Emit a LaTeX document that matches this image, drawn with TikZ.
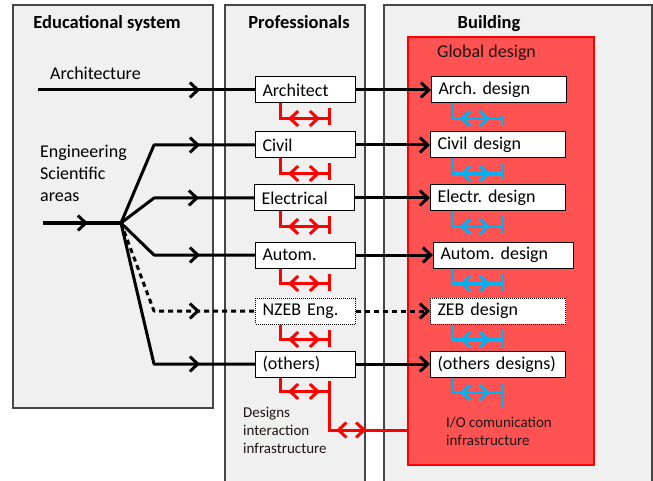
\documentclass[tikz,border=0pt]{standalone}
\usepackage{fontspec}
\setmainfont{Carlito}
\usetikzlibrary{arrows.meta,decorations.markings,calc}
\definecolor{panelgray}{RGB}{240,240,240}
\definecolor{panelline}{RGB}{70,70,70}
\definecolor{gdred}{RGB}{255,82,82}
\definecolor{lnred}{RGB}{255,0,0}
\definecolor{lnblue}{RGB}{0,176,240}
\definecolor{darktext}{RGB}{30,20,20}
\frenchspacing
\tikzset{
  x=1pt, y=-1pt,
  mainfont/.style={font=\fontsize{18}{22}\selectfont},
  smallfont/.style={font=\fontsize{15}{18}\selectfont},
  titlefont/.style={font=\bfseries\fontsize{18.5}{22}\selectfont},
  boxbase/.style={draw=black, line width=1pt, fill=white, minimum height=26pt,
    inner xsep=7pt, inner ysep=0pt, align=left, anchor=west, mainfont},
  pbox/.style={boxbase, text width=86pt},
  dbox/.style={boxbase, text width=#1},
  dbox/.default=121pt,
  dotbox/.style={dash pattern=on 1pt off 1pt},
  flow/.style={line width=3pt, black, line join=round},
  tipb/.tip={Straight Barb[length=8pt,width=15pt]},
  midtip/.style={postaction={solid, decorate, decoration={markings,
      mark=at position #1 with {\arrow{tipb}}}}},
  dbl/.style 2 args={postaction={solid, decorate, decoration={markings,
      mark=at position #1 with {\arrowreversed{tipb}},
      mark=at position #2 with {\arrow{tipb}}}}},
  rl/.style={line width=3pt, lnred},
  bl/.style={line width=3pt, lnblue},
}
\begin{document}
\begin{tikzpicture}
\useasboundingbox (0,0) rectangle (653,481);
\fill[white] (0,0) rectangle (653,481);
% panels
\fill[panelgray] (13,5) rectangle (213,408);
\draw[panelline, line width=1.2pt] (13,5) rectangle (213,408);
\fill[panelgray] (225,5) rectangle (365,481);
\draw[panelline, line width=1.2pt] (225,481) -- (225,5) -- (365,5) -- (365,481);
\fill[panelgray] (384,5) rectangle (652,481);
\draw[panelline, line width=1.2pt] (384,481) -- (384,5) -- (652,5) -- (652,481);
% global design box
\node[fill=gdred, draw=lnred, line width=1.5pt, minimum width=186pt, minimum height=428pt, inner sep=0pt] (gd) at (501,251) {};
% titles
\node[titlefont, anchor=base] (t1) at (107,29) {Educational system};
\node[titlefont, anchor=base] (t2) at (299,29) {Professionals};
\node[titlefont, anchor=base] (t3) at (489,29) {Building};
\node[mainfont, text=darktext, anchor=base west, inner sep=0pt] (gdl) at (437,58) {Global design};
% education labels
\node[mainfont, anchor=base west, inner sep=0pt] (archl) at (50,80) {Architecture};
\node[mainfont, anchor=base west, inner sep=0pt, align=left] (engl) at (40,202) {Engineering\\Scientific\\areas};
% professional boxes
\node[pbox] (arch) at (255,90) {Architect};
\node[pbox] (civ) at (255,145) {Civil};
\node[pbox] (ele) at (254,198) {Electrical};
\node[pbox] (aut) at (255,255) {Autom.};
\node[pbox, dotbox] (nzeb) at (255,311) {NZEB Eng.};
\node[pbox] (oth) at (255,364) {(others)};
% design boxes
\node[dbox] (archd) at (431,90) {Arch. design};
\node[dbox] (civd) at (430,145) {Civil design};
\node[dbox] (eled) at (430,198) {Electr. design};
\node[dbox=126pt] (autd) at (433,255) {Autom. design};
\node[dbox, dotbox] (zebd) at (430,311) {ZEB design};
\node[dbox] (othd) at (430,364) {(others designs)};
% small labels
\node[smallfont, text=darktext, anchor=base west, inner sep=0pt, align=left] (dil) at (243,453) {Designs\\interaction\\infrastructure};
\node[smallfont, text=darktext, anchor=base west, inner sep=0pt, align=left] (iol) at (446,445) {I/O comunication\\infrastructure};
% education -> professionals
\coordinate (archS) at (38,90);
\coordinate (engS) at (43,223);
\coordinate (br) at (121,223);
\draw[flow, midtip=-55pt] (archS) -- (arch.west);
\draw[flow, midtip=45pt] (engS) -- (br);
\draw[flow, midtip=-55pt] (br) -- (154,0 |- civ.west) -- (civ.west);
\draw[flow, midtip=-55pt] (br) -- (154,0 |- ele.west) -- (ele.west);
\draw[flow, midtip=-55pt] (br) -- (154,0 |- aut.west) -- (aut.west);
\draw[flow, dash pattern=on 5pt off 4pt, midtip=-55pt] (br) -- (154,0 |- nzeb.west) -- (nzeb.west);
\draw[flow, midtip=-55pt] (br) -- (154,0 |- oth.west) -- (oth.west);
% professionals -> designs
\draw[flow, -tipb] (arch.east) -- (archd.west);
\draw[flow, -tipb] (civ.east) -- (civd.west);
\draw[flow, -tipb] (ele.east) -- (eled.west);
\draw[flow, -tipb] (aut.east) -- (autd.west);
\draw[flow, dash pattern=on 5pt off 4pt, -tipb] (nzeb.east) -- (zebd.west);
\draw[flow, -tipb] (oth.east) -- (othd.west);
% red interaction links
\foreach \n in {arch,civ,ele,aut,nzeb}{
  \draw[rl, dbl={23pt}{-9pt}] (280,0 |- \n.south) |- ($(329,0 |- \n.south)+(0,15)$);
  \draw[rl] ($(329,0 |- \n.south)+(0,5)$) -- ($(329,0 |- \n.south)+(0,22)$);
}
\draw[rl, dbl={22pt}{-9pt}] (280,0 |- oth.south) |- ($(329,0 |- oth.south)+(0,14)$);
\draw[rl, dbl={-71pt}{-41pt}] ($(329,0 |- oth.south)+(0,3)$) -- (329,430) -- (gd.west |- 0,430);
% blue communication links
\foreach \n/\t/\b in {archd/12/22, civd/5/22, eled/5/22, autd/5/22, zebd/5/22, othd/5/29}{
  \draw[bl, dbl={23pt}{-12pt}] (452,0 |- \n.south) |- ($(502,0 |- \n.south)+(0,15)$);
  \draw[bl] ($(502,0 |- \n.south)+(0,\t)$) -- ($(502,0 |- \n.south)+(0,\b)$);
}
\end{tikzpicture}
\end{document}
